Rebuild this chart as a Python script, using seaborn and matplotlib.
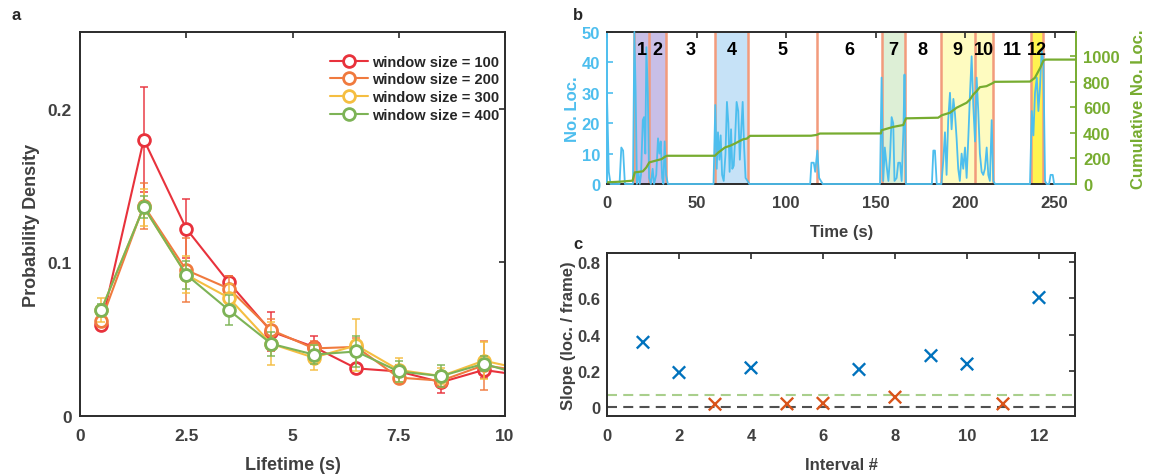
import numpy as np
import pandas as pd
import matplotlib
matplotlib.use("Agg")
import matplotlib.pyplot as plt
import seaborn as sns

sns.set_theme(style="white")
plt.rcParams['font.family'] = ['Liberation Sans', 'DejaVu Sans']
plt.rcParams['font.weight'] = 'bold'
plt.rcParams['axes.labelweight'] = 'bold'

# ---------------- Panel a data ----------------
lifetime = [0.5, 1.5, 2.5, 3.5, 4.5, 5.5, 6.5, 7.5, 8.5, 9.5, 10.5]
window_sizes = [100, 200, 300, 400]
pd_w100 = [0.059, 0.180, 0.122, 0.087, 0.055, 0.045, 0.031, 0.029, 0.022, 0.030, 0.026]
pd_w200 = [0.062, 0.137, 0.095, 0.083, 0.056, 0.044, 0.045, 0.025, 0.023, 0.033, 0.029]
pd_w300 = [0.069, 0.136, 0.092, 0.077, 0.047, 0.038, 0.046, 0.030, 0.026, 0.036, 0.030]
pd_w400 = [0.069, 0.136, 0.092, 0.069, 0.047, 0.040, 0.042, 0.029, 0.026, 0.034, 0.026]
err_w100 = [0.002, 0.034, 0.019, 0.004, 0.013, 0.007, 0.003, 0.004, 0.007, 0.005, 0.0]
err_w200 = [0.003, 0.015, 0.021, 0.008, 0.007, 0.005, 0.006, 0.003, 0.003, 0.016, 0.0]
err_w300 = [0.008, 0.012, 0.012, 0.009, 0.014, 0.008, 0.017, 0.008, 0.005, 0.012, 0.0]
err_w400 = [0.004, 0.007, 0.009, 0.010, 0.008, 0.006, 0.010, 0.007, 0.007, 0.005, 0.0]
colors_a = ['#E8323C', '#F07A3E', '#F5BE41', '#7DB356']

# ---------------- Panel b data ----------------
trace_time = [0, 1, 2, 7, 8, 9, 10, 14.5, 15.3, 16, 16.7, 17.5, 18.3, 19, 20, 20.7, 21.4, 22,
              22.8, 23.5, 24.5, 25.5, 26.3, 27.5, 28.5, 29.3, 30, 30.8, 31.5, 32.2, 33, 34,
              59.5, 60.5, 61.3, 62, 62.8, 63.5, 64.3, 65.2, 66.2, 67, 67.8, 68.5, 69.3, 70,
              70.8, 71.5, 72.4, 73.3, 74.2, 75, 75.8, 76.6, 77.4, 78.5, 79.5,
              113.5, 114.2, 115.5, 116.3, 117.5, 118.5, 119.5, 120.5,
              152.5, 153.4, 154.3, 155.2, 156.2, 157.2, 158.1, 159, 159.9, 160.6, 161.8, 162.7,
              163.7, 164.6, 165.6, 166.2, 167, 181.5, 182.3, 183.2, 184.2,
              186.8, 187.9, 188.8, 189.7, 190.6, 191.6, 192.5, 193.5, 194.4, 195.3, 196.2, 197.1,
              198.1, 199, 200, 200.9, 201.9, 202.8, 203.7, 204.6, 205.6, 206.5, 207.4, 208.3,
              209.3, 210.2, 211.1, 212.1, 213, 213.9, 214.9, 215.8, 216.8,
              236.3, 237.3, 238.2, 239.1, 240.1, 241, 241.9, 242.8, 243.8, 244.7, 245.6,
              247, 247.8, 249, 249.8, 262]
trace_nloc = [29, 4, 0, 0, 12, 11, 0, 0, 50, 30, 0, 4, 0, 3, 21, 22, 10, 45,
              30, 2, 0, 5, 0, 3, 15, 10, 14, 2, 0, 14, 3, 0,
              0, 26, 5, 17, 8, 16, 3, 1, 10, 27, 20, 4, 18, 5,
              6, 14, 27, 24, 8, 18, 27, 12, 2, 1, 0,
              0, 7, 7, 4, 11, 2, 1, 0,
              0, 35, 1, 12, 6, 1, 9, 22, 20, 1, 2, 7,
              7, 1, 18, 36, 0, 0, 11, 11, 0,
              0, 8, 17, 3, 21, 30, 18, 28, 23, 15, 5, 1,
              10, 5, 12, 2, 16, 30, 42, 26, 14, 35, 24, 10,
              4, 3, 5, 12, 3, 1, 21, 1, 0,
              0, 24, 16, 30, 35, 24, 32, 44, 40, 1, 0,
              0, 3, 3, 0, 0]
cum_time = [0, 7, 14.3, 15.5, 20, 22, 23.6, 27, 30.5, 32.3, 33.5, 60.3, 62.2, 63, 65.9, 68.7,
            71.5, 74.3, 76.2, 78.1, 79.9, 114, 117, 118.9, 153, 153.4, 159.9, 165.5, 167,
            185, 187, 191.6, 195.3, 199, 200.9, 202.8, 204.6, 206.5, 208.3, 212, 215.8, 216.5,
            236.3, 239, 242, 243.8, 245, 262]
cum_nloc = [13, 18, 26, 91, 99, 130, 169, 182, 195, 213, 221, 221, 247, 255, 286, 299,
            317, 338, 351, 355, 377, 378, 384, 395, 396, 421, 447, 462, 514,
            519, 538, 558, 597, 623, 636, 662, 701, 727, 758, 766, 792, 800,
            802, 831, 909, 966, 974, 974]
interval_bounds = [15.3, 23.5, 32.8, 60.3, 79.0, 117.5, 153.4, 166.5, 186.4, 205.6, 215.8, 236.9, 243.8]
interval_labels = ['1', '2', '3', '4', '5', '6', '7', '8', '9', '10', '11', '12']
interval_colors = ['#C8BFE7', '#C8BFE7', None, '#C6E2F7', None, None, '#DDEFD6', None,
                   '#FEFBC0', '#FEFBC0', None, '#FFF450']

# ---------------- Panel c data ----------------
interval_num = [1, 2, 3, 4, 5, 6, 7, 8, 9, 10, 11, 12]
slope = [0.357, 0.190, 0.015, 0.216, 0.017, 0.020, 0.207, 0.054, 0.283, 0.237, 0.017, 0.604]
slope_kind = ['high', 'high', 'low', 'high', 'low', 'low', 'high', 'low', 'high', 'high', 'low', 'high']
threshold = 0.064

# ---------------- Figure ----------------
W, H = 1153, 477
fig = plt.figure(figsize=(W / 100, H / 100), dpi=100)
axA = fig.add_axes([80 / W, 1 - 417 / H, 425 / W, 384 / H])
axB = fig.add_axes([607 / W, 1 - 185 / H, 469 / W, 152 / H])
axC = fig.add_axes([607 / W, 1 - 417 / H, 468 / W, 163 / H])

spine_c = '#2b2b2b'
tick_lab_c = '#404040'


def matlab_style(ax, size, pad=5):
    ax.tick_params(direction='in', top=True, right=True, length=4, width=1.2,
                   colors=spine_c, labelcolor=tick_lab_c, labelsize=size, pad=pad)
    for s in ax.spines.values():
        s.set_color(spine_c)
        s.set_linewidth(1.4)
    for lab in ax.get_xticklabels() + ax.get_yticklabels():
        lab.set_fontweight('bold')


# ----- Panel a -----
series = [pd_w100, pd_w200, pd_w300, pd_w400]
errs = [err_w100, err_w200, err_w300, err_w400]
for w, vals, e, col in zip(window_sizes, series, errs, colors_a):
    axA.errorbar(lifetime, vals, yerr=e, fmt='none', ecolor=col, elinewidth=1.3,
                 capsize=3, capthick=1.3, alpha=0.8)
    sns.lineplot(x=lifetime, y=vals, ax=axA, color=col, marker='o', markersize=8.5,
                 markerfacecolor='white', markeredgecolor=col, markeredgewidth=2,
                 linewidth=1.5, sort=False, errorbar=None, label=f'window size = {w}')
axA.set_xlim(0, 10)
axA.set_ylim(0, 0.25)
axA.set_xticks([0, 2.5, 5, 7.5, 10])
axA.set_xticklabels(['0', '2.5', '5', '7.5', '10'])
axA.set_yticks([0, 0.1, 0.2])
axA.set_yticklabels(['0', '0.1', '0.2'])
matlab_style(axA, 12.5, pad=6)
axA.tick_params(axis='x', pad=9)
axA.set_xlabel('Lifetime (s)', fontsize=13, color=tick_lab_c, labelpad=9)
axA.set_ylabel('Probability Density', fontsize=13, color=tick_lab_c, labelpad=5)
leg = axA.legend(loc='upper right', bbox_to_anchor=(1.0, 0.956), frameon=False,
                 fontsize=10.5, handlelength=2.6, handletextpad=0.3,
                 labelspacing=0.25, borderaxespad=0.0)
for t in leg.get_texts():
    t.set_fontweight('bold')
    t.set_color('#262626')

# ----- Panel b -----
c_blue = '#4DBEEE'
c_green = '#77AC30'
for i, col in enumerate(interval_colors):
    if col is not None:
        axB.axvspan(interval_bounds[i], interval_bounds[i + 1], color=col, lw=0, zorder=0)
for b in interval_bounds:
    axB.axvline(b, color='#F29B7C', lw=1.8, zorder=1)
for i, lab in enumerate(interval_labels):
    xc = 0.5 * (interval_bounds[i] + interval_bounds[i + 1])
    axB.text(xc, 44.3, lab, ha='center', va='center', fontsize=13, fontweight='bold',
             color='black', zorder=5)
sns.lineplot(x=trace_time, y=trace_nloc, ax=axB, color=c_blue, linewidth=1.3,
             sort=False, errorbar=None, zorder=3)
axB.lines[-1].set_clip_on(False)
axB.set_xlim(0, 262)
axB.set_ylim(0, 50)
axB.set_xticks([0, 50, 100, 150, 200, 250])
axB.set_yticks([0, 10, 20, 30, 40, 50])
matlab_style(axB, 12)
axB.tick_params(axis='x', pad=8)
axB.tick_params(axis='y', colors=c_blue, labelcolor=c_blue, right=False)
axB.spines['left'].set_color(c_blue)
axB.spines['right'].set_visible(False)
axB.set_xlabel('Time (s)', fontsize=12, color=tick_lab_c, labelpad=10)
axB.set_ylabel('No. Loc.', fontsize=12, color=c_blue, labelpad=1)

ax2 = axB.twinx()
sns.lineplot(x=cum_time, y=cum_nloc, ax=ax2, color=c_green, linewidth=1.6,
             sort=False, errorbar=None)
ax2.set_ylim(0, 1190)
ax2.set_yticks([0, 200, 400, 600, 800, 1000])
ax2.tick_params(axis='y', direction='in', length=4, width=1.2, colors=c_green,
                labelcolor=c_green, labelsize=12, pad=5)
for lab in ax2.get_yticklabels():
    lab.set_fontweight('bold')
for s in ['left', 'top', 'bottom']:
    ax2.spines[s].set_visible(False)
ax2.spines['right'].set_color(c_green)
ax2.spines['right'].set_linewidth(1.4)
ax2.set_ylabel('Cumulative No. Loc.', fontsize=12, color=c_green, labelpad=8)
ax2.grid(False)

# ----- Panel c -----
dfc = pd.DataFrame({'interval': interval_num, 'slope': slope, 'kind': slope_kind})
axC.axhline(0, color='#505050', lw=1.5, ls=(0, (4.8, 3)), zorder=1)
axC.axhline(threshold, color='#A9CF8C', lw=1.5, ls=(0, (4.8, 3)), zorder=1)
sns.scatterplot(data=dfc, x='interval', y='slope', hue='kind',
                palette={'high': '#0072BD', 'low': '#D95319'}, marker='x', s=80,
                linewidth=1.7, legend=False, ax=axC, zorder=3)
axC.set_xlim(0, 13)
axC.set_ylim(-0.05, 0.85)
axC.set_xticks([0, 2, 4, 6, 8, 10, 12])
axC.set_yticks([0, 0.2, 0.4, 0.6, 0.8])
axC.set_yticklabels(['0', '0.2', '0.4', '0.6', '0.8'])
matlab_style(axC, 12)
axC.tick_params(axis='x', pad=9)
axC.set_xlabel('Interval #', fontsize=12, color=tick_lab_c, labelpad=10)
axC.set_ylabel('Slope (loc. / frame)', fontsize=12, color=tick_lab_c, labelpad=1)

# panel letters
fig.text(12 / W, 1 - 15 / H, 'a', fontsize=12, fontweight='bold', va='center', ha='left')
fig.text(573 / W, 1 - 15 / H, 'b', fontsize=12, fontweight='bold', va='center', ha='left')
fig.text(573 / W, 1 - 245 / H, 'c', fontsize=12, fontweight='bold', va='center', ha='left')

fig.savefig('out.png', dpi=100)
